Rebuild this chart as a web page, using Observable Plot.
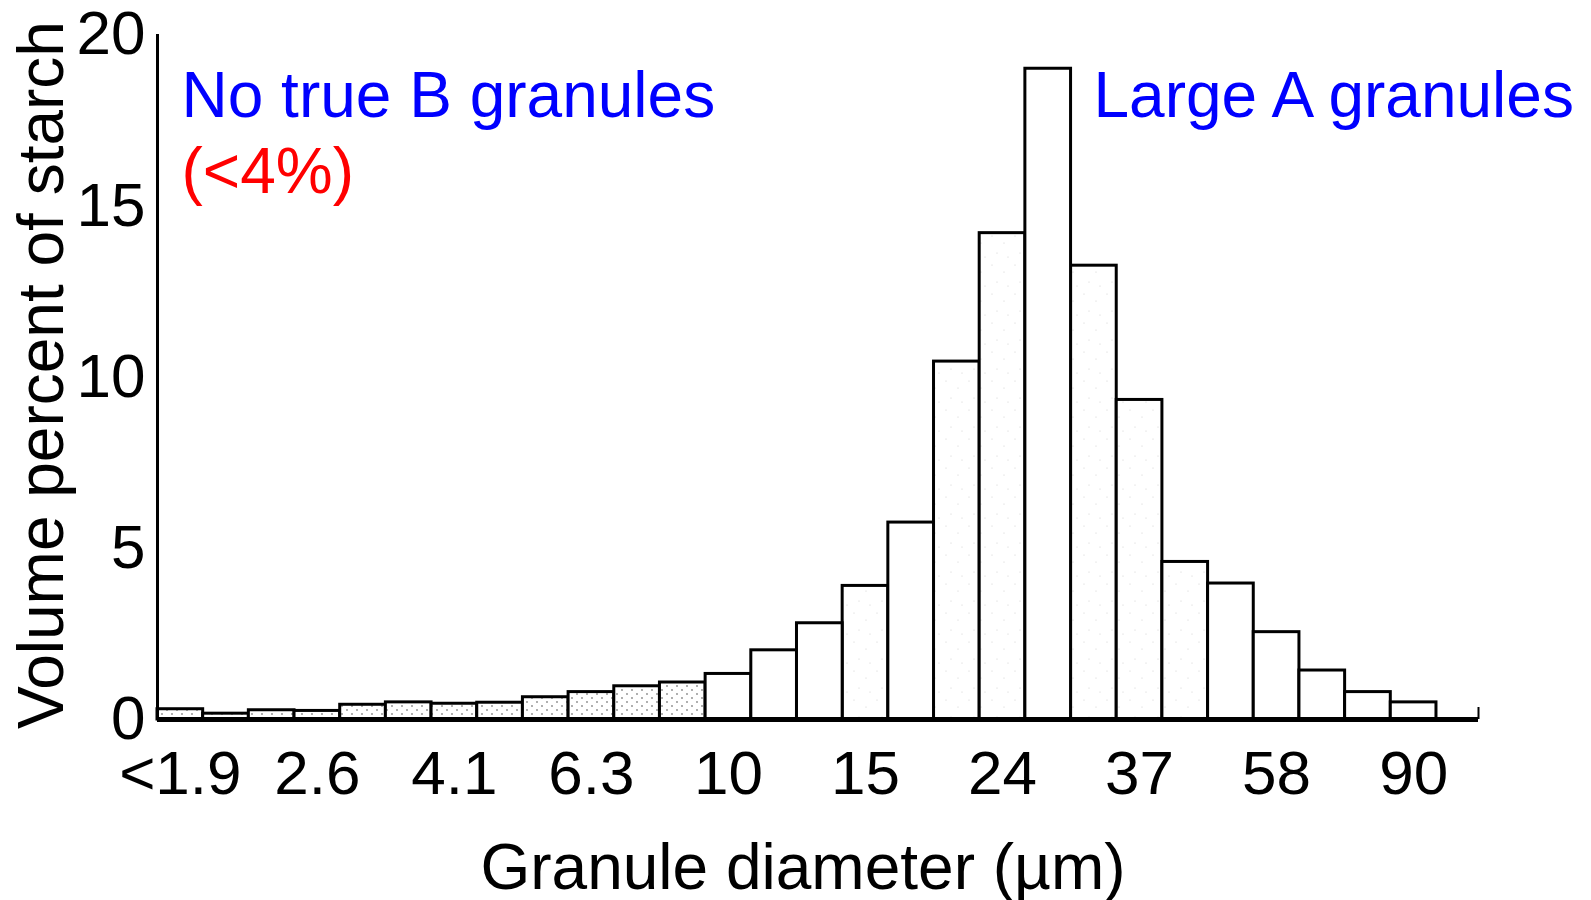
<!DOCTYPE html>
<html>
<head>
<meta charset="utf-8">
<script src="https://cdn.jsdelivr.net/npm/d3@7"></script>
<script src="https://cdn.jsdelivr.net/npm/@observablehq/plot@0.6"></script>
<style>
  html, body { margin: 0; padding: 0; background: #fff; }
  svg { display: block; }
</style>
</head>
<body>
<div id="chart"></div>
<script>
// ---- data ----
const volumePercent = [0.3, 0.17, 0.27, 0.25, 0.43, 0.5, 0.46, 0.49, 0.65, 0.8,
  0.97, 1.08, 1.33, 2.02, 2.81, 3.9, 5.75, 10.45, 14.2, 19.0,
  13.25, 9.33, 4.6, 3.97, 2.55, 1.43, 0.8, 0.5];
const diameterLabels = ["<1.9", "2.6", "4.1", "6.3", "10", "15", "24", "37", "58", "90"];
const yTicks = [0, 5, 10, 15, 20];
const xTitle = "Granule diameter (µm)";
const yTitle = "Volume percent of starch";
const noteB = "No true B granules";
const noteBPct = "(<4%)";
const noteA = "Large A granules";

// ---- build table ----
const bins = volumePercent.map((v, i) => ({i, v}));
const labelEvery = 3;
const tickPos = diameterLabels.map((_, k) => k * labelEvery + 0.5);
const xMax = bins.length + 0.92;

// style groups (dotted / faintly speckled fills seen in the scan)
const dotted = new Set(d3.range(0, 12));
const speckled = new Set([15, 17, 18, 20, 21, 22]);

const font = "'Liberation Sans', Arial, Helvetica, sans-serif";

const chart = Plot.plot({
  width: 1591,
  height: 900,
  marginLeft: 157,
  marginRight: 113,
  marginTop: 34,
  marginBottom: 181,
  style: {fontFamily: font, background: "white", overflow: "visible", color: "black"},
  x: {domain: [0, xMax], axis: null},
  y: {domain: [0, 20], axis: null},
  marks: [
    Plot.rectY(bins, {filter: d => dotted.has(d.i), x1: "i", x2: d => d.i + 1, y: "v", fill: "url(#dots)", stroke: "black", strokeWidth: 3}),
    Plot.rectY(bins, {filter: d => speckled.has(d.i), x1: "i", x2: d => d.i + 1, y: "v", fill: "url(#speckle)", stroke: "black", strokeWidth: 3}),
    Plot.rectY(bins, {filter: d => !dotted.has(d.i) && !speckled.has(d.i), x1: "i", x2: d => d.i + 1, y: "v", fill: "white", stroke: "black", strokeWidth: 3}),
    Plot.ruleX([0], {y1: 0, y2: 20, stroke: "black", strokeWidth: 3}),
    Plot.ruleY([0], {x1: 0, x2: xMax, stroke: "black", strokeWidth: 5}),
    Plot.ruleX([xMax], {y1: 0, y2: 0.35, stroke: "black", strokeWidth: 2}),
    Plot.axisY({ticks: yTicks, tickSize: 0, tickPadding: 12, fontSize: 62, label: null}),
    Plot.axisX({ticks: tickPos, tickFormat: (d, k) => diameterLabels[k], tickSize: 0, tickPadding: 30, fontSize: 62, label: null}),
    Plot.text([xTitle], {frameAnchor: "bottom", textAnchor: "middle", lineAnchor: "bottom", dx: -15, dy: 169, fontSize: 64, fill: "black"}),
    Plot.text([yTitle], {frameAnchor: "left", textAnchor: "middle", lineAnchor: "bottom", rotate: -90, dx: -95, dy: -2, fontSize: 64, fill: "black"}),
    Plot.text([noteB], {frameAnchor: "top-left", textAnchor: "start", lineAnchor: "bottom", dx: 24, dy: 82, fontSize: 64, fill: "#0000ff"}),
    Plot.text([noteBPct], {frameAnchor: "top-left", textAnchor: "start", lineAnchor: "bottom", dx: 24, dy: 158, fontSize: 64, fill: "#ff0000"}),
    Plot.text([noteA], {frameAnchor: "top-left", textAnchor: "start", lineAnchor: "bottom", dx: 936, dy: 82, fontSize: 64, fill: "#0000ff"})
  ]
});

// patterns for stippled bars
const ns = "http://www.w3.org/2000/svg";
const defs = document.createElementNS(ns, "defs");
function makePattern(id, w, h, dots, color, r) {
  const p = document.createElementNS(ns, "pattern");
  p.setAttribute("id", id);
  p.setAttribute("width", w);
  p.setAttribute("height", h);
  p.setAttribute("patternUnits", "userSpaceOnUse");
  const bg = document.createElementNS(ns, "rect");
  bg.setAttribute("width", w); bg.setAttribute("height", h); bg.setAttribute("fill", "white");
  p.appendChild(bg);
  for (const [cx, cy] of dots) {
    const c = document.createElementNS(ns, "circle");
    c.setAttribute("cx", cx); c.setAttribute("cy", cy); c.setAttribute("r", r); c.setAttribute("fill", color);
    p.appendChild(c);
  }
  defs.appendChild(p);
}
makePattern("dots", 10, 8, [[2, 2], [7, 6]], "#8a8a8a", 0.9);
makePattern("speckle", 23, 29, [[3, 4], [15, 11], [8, 21], [19, 25]], "#d0d0d0", 0.6);
chart.insertBefore(defs, chart.firstChild);

document.getElementById("chart").appendChild(chart);
</script>
</body>
</html>
